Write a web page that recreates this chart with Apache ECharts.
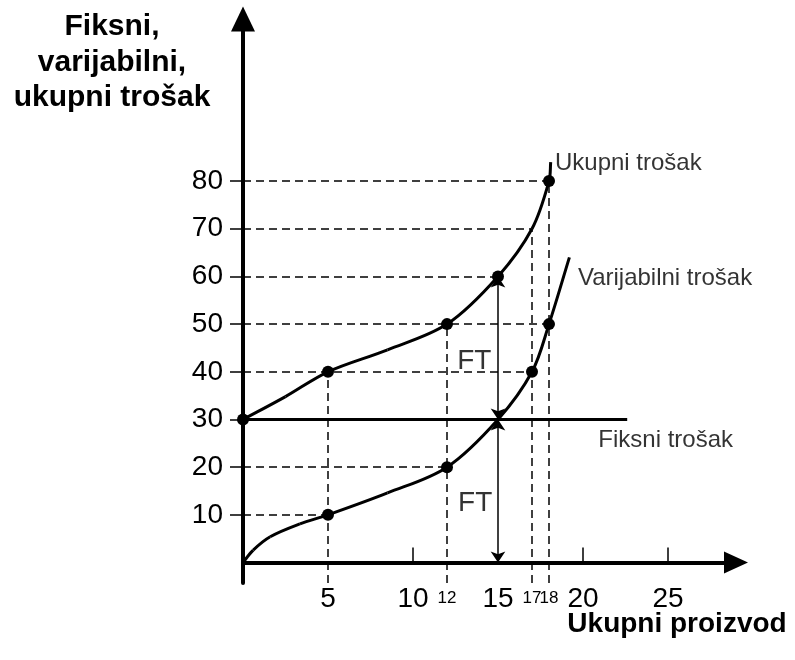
<!DOCTYPE html>
<html>
<head>
<meta charset="utf-8">
<script src="https://cdn.jsdelivr.net/npm/echarts@6/dist/echarts.min.js"></script>
<style>
html,body{margin:0;padding:0;background:#fff}
#chart{width:795px;height:660px}
</style>
</head>
<body>
<div id="chart"></div>
<script>
// tick labels
var yTicks = [10, 20, 30, 40, 50, 60, 70, 80];
var xLabels = [5, 10, 12, 15, 17, 18, 20, 25];
var xSmall = [12, 17, 18];
var xTicks = [10, 20, 25];

// ukupni trosak
var totalCurve = [[0,30],[2.5,34.8],[5,40],[8.5,44.6],[12,50],[15,60],[17,70],[18,80],[18.1,84]];
var totalDots = [[0,30],[5,40],[12,50],[15,60],[18,80]];

// varijabilni trosak
var varCurve = [[0,0],[0.6,2.6],[1.6,5.4],[3.35,8.1],[5,10],[8.5,14.6],[12,20],[15,30],[17,40],[18,50],[19.2,64]];
var varDots = [[5,10],[12,20],[17,40],[18,50]];

// fiksni trosak
var fixedCost = 30;
var fixedEnd = 22.6;

// pomocne crtkane linije: [y, do x] i [x, do y]
var hGuides = [[80,18],[70,17],[60,15],[50,18],[40,17],[20,12],[10,5]];
var vGuides = [[5,40],[12,50],[17,70],[18,80]];
var yBottom = -4.3;

// FT strelice na x = 15
var ftX = 15;
var ftLevels = [60, 30, 0];

// natpisi [tekst, x, y]
var notes = [
  ['Ukupni trošak', 18.35, 83.8],
  ['Varijabilni trošak', 19.7, 59.5],
  ['Fiksni trošak', 20.9, 25.7],
  ['FT', 12.6, 42.3],
  ['FT', 12.65, 12.5]
];

var chart = echarts.init(document.getElementById('chart'));
var FONT = 'Liberation Sans';

var guideData = [];
hGuides.forEach(function (g) { guideData.push({coords: [[0, g[0]], [g[1], g[0]]]}); });
vGuides.forEach(function (g) { guideData.push({coords: [[g[0], yBottom], [g[0], g[1]]]}); });

var ftData = [];
for (var i = 0; i < ftLevels.length - 1; i++) {
  ftData.push({coords: [[ftX, ftLevels[i]], [ftX, ftLevels[i + 1]]]});
}

// glatka krivulja kroz tocke (bezier segmenti u pikselima)
function unitDir(a, b) {
  var dx = b[0] - a[0], dy = b[1] - a[1];
  var l = Math.sqrt(dx * dx + dy * dy) || 1;
  return [dx / l, dy / l];
}
function curveSeries(pts) {
  return {
    type: 'custom', z: 3,
    data: [0],
    renderItem: function (params, api) {
      var p = pts.map(function (d) { return api.coord(d); });
      var n = p.length, tan = [];
      for (var i = 0; i < n; i++) {
        tan.push(unitDir(p[Math.max(i - 1, 0)], p[Math.min(i + 1, n - 1)]));
      }
      var kids = [];
      for (var j = 0; j < n - 1; j++) {
        var a = p[j], b = p[j + 1];
        var d = Math.sqrt(Math.pow(b[0] - a[0], 2) + Math.pow(b[1] - a[1], 2)) / 3;
        kids.push({
          type: 'bezierCurve',
          shape: {
            x1: a[0], y1: a[1], x2: b[0], y2: b[1],
            cpx1: a[0] + tan[j][0] * d, cpy1: a[1] + tan[j][1] * d,
            cpx2: b[0] - tan[j + 1][0] * d, cpy2: b[1] - tan[j + 1][1] * d
          },
          style: {stroke: '#000', lineWidth: 3, fill: null}
        });
      }
      return {type: 'group', children: kids};
    }
  };
}

var option = {
  animation: false,
  backgroundColor: '#fff',
  grid: {left: 243, right: 59, top: 19, bottom: 77},
  xAxis: {
    type: 'value', min: 0, max: 29,
    splitLine: {show: false},
    axisLine: {onZero: true, symbol: ['none', 'triangle'], symbolSize: [22, 24],
      lineStyle: {color: '#000', width: 4}},
    axisTick: {show: true, inside: true, length: 15, customValues: xTicks,
      lineStyle: {color: '#000', width: 1.5}},
    axisLabel: {
      customValues: xLabels, margin: 2, color: '#000',
      formatter: function (v) { return xSmall.indexOf(v) >= 0 ? '{s|' + v + '}' : '{b|' + v + '}'; },
      rich: {
        b: {fontSize: 28, fontFamily: FONT, color: '#000'},
        s: {fontSize: 17, fontFamily: FONT, color: '#000', padding: [5, 0, 0, 0]}
      }
    }
  },
  yAxis: {
    type: 'value', min: yBottom, max: 114,
    splitLine: {show: false},
    axisLine: {onZero: true, symbol: ['none', 'triangle'], symbolSize: [24, 25],
      lineStyle: {color: '#000', width: 4}},
    axisTick: {show: true, length: 13, customValues: yTicks,
      lineStyle: {color: '#000', width: 1.5}},
    axisLabel: {customValues: yTicks, margin: 20, fontSize: 28, fontFamily: FONT, color: '#000'}
  },
  graphic: [
    {type: 'text', style: {
      text: 'Fiksni,\nvarijabilni,\nukupni trošak', x: 112, y: 9, align: 'center', verticalAlign: 'top',
      font: 'bold 30px "Liberation Sans"', lineHeight: 35.5, fill: '#000'}},
    {type: 'text', style: {
      text: 'Ukupni proizvod', x: 677, y: 624, align: 'center', verticalAlign: 'middle',
      font: 'bold 28px "Liberation Sans"', fill: '#000'}}
  ],
  series: [
    {
      type: 'lines', coordinateSystem: 'cartesian2d', z: 1,
      lineStyle: {color: '#000', width: 1.5, type: [8, 5], opacity: 1},
      data: guideData
    },
    {
      type: 'lines', coordinateSystem: 'cartesian2d', z: 2,
      symbol: ['arrow', 'arrow'], symbolSize: 11,
      lineStyle: {color: '#000', width: 1.5, opacity: 1},
      data: ftData
    },
    curveSeries(totalCurve),
    curveSeries(varCurve),
    {
      type: 'line', z: 3, showSymbol: false,
      lineStyle: {color: '#000', width: 3}, data: [[0, fixedCost], [fixedEnd, fixedCost]]
    },
    {
      type: 'scatter', z: 4, symbolSize: 12, itemStyle: {color: '#000', opacity: 1},
      data: totalDots.concat(varDots)
    },
    {
      type: 'scatter', z: 5, symbolSize: 0,
      data: notes.map(function (n) {
        return {name: n[0], value: [n[1], n[2]], label: n[0] === 'FT' ? {fontSize: 28} : {}};
      }),
      label: {
        show: true, position: 'inside', align: 'left', verticalAlign: 'middle',
        formatter: '{b}', color: '#000', fontFamily: FONT, fontSize: 24
      }
    }
  ]
};

chart.setOption(option);
</script>
</body>
</html>
